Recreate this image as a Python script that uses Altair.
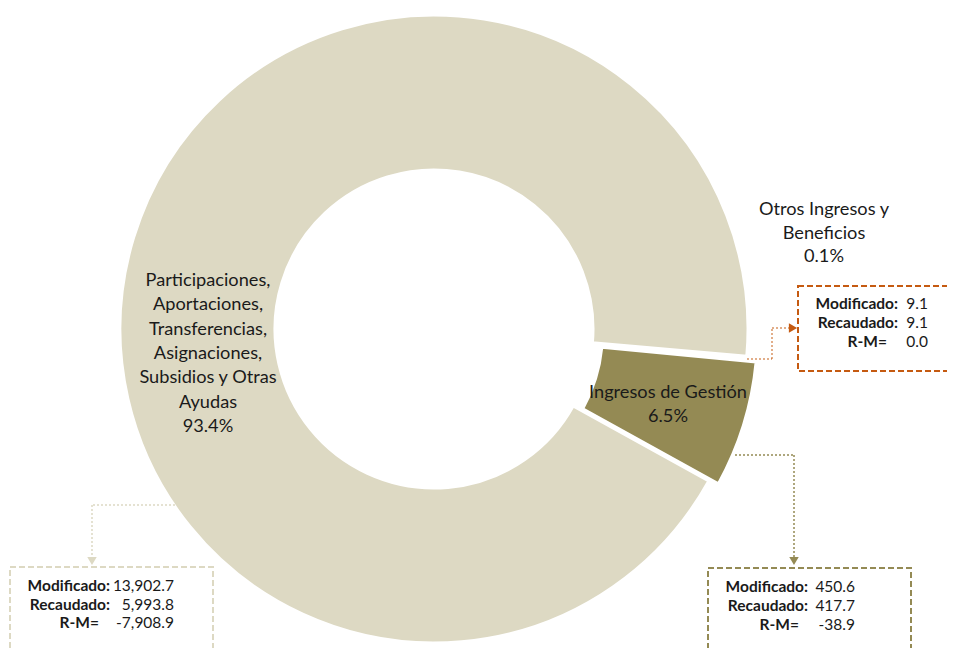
import altair as alt
import pandas as pd
import numpy as np

# ---------------- data ----------------
categories = [
    "Otros Ingresos y Beneficios",
    "Ingresos de Gestión",
    "Participaciones, Aportaciones, Transferencias, Asignaciones, Subsidios y Otras Ayudas",
]
label_lines = [
    ["Otros Ingresos y", "Beneficios"],
    ["Ingresos de Gestión"],
    ["Participaciones,", "Aportaciones,", "Transferencias,", "Asignaciones,",
     "Subsidios y Otras", "Ayudas"],
]
recaudado = [9.1, 417.7, 5993.8]
modificado = [9.1, 450.6, 13902.7]
r_m = [0.0, -38.9, -7908.9]
box_labels = ["Modificado:", "Recaudado:", "R-M="]

# ---------------- styles ----------------
slice_colors = ["#C55A11", "#948A54", "#DDD9C3"]
box_colors = ["#C55A11", "#948A54", "#DDD9C3"]
FONT = "Lato"
LABEL_SIZE = 18.2
BOX_SIZE = 15.5

OFF = 8                      # page margin
CX, CY = 434 - OFF, 329 - OFF
R_OUT, R_IN = 314, 159
START = np.deg2rad(95)
EXPLODE = 10

total = sum(recaudado)
pcts = [f"{v / total * 100:.1f}%" for v in recaudado]

df = pd.DataFrame({"cat": categories, "recaudado": recaudado, "ord": [0, 1, 2]})

ring = (
    alt.Chart(df)
    .transform_window(cum="sum(recaudado)", sort=[alt.SortField("ord")], frame=[None, 0])
    .transform_calculate(start="datum.cum - datum.recaudado")
)
theta_scale = alt.Scale(domain=[0, total], range=[START, START + 2 * np.pi])
enc = dict(
    theta=alt.Theta("start:Q", scale=theta_scale, stack=None),
    theta2=alt.Theta2("cum"),
    color=alt.Color("cat:N", scale=alt.Scale(domain=categories, range=slice_colors), legend=None),
)

main = ring.transform_filter("datum.ord != 1").mark_arc(
    x=CX, y=CY, innerRadius=R_IN, outerRadius=R_OUT, stroke="white", strokeWidth=3
).encode(**enc)

mid = START + (recaudado[0] + recaudado[1] / 2) / total * 2 * np.pi
dx, dy = EXPLODE * np.sin(mid), -EXPLODE * np.cos(mid)
gest = ring.transform_filter("datum.ord == 1").mark_arc(
    x=CX + dx, y=CY + dy, innerRadius=R_IN, outerRadius=R_OUT, stroke="white", strokeWidth=3
).encode(**enc)

one = pd.DataFrame({"a": [0]})


def text_layer(txt, x, y, align="center", size=LABEL_SIZE, bold=False, lh=24):
    d = pd.DataFrame({"t": [txt]})
    return alt.Chart(d).mark_text(
        align=align, baseline="alphabetic", font=FONT, fontSize=size,
        fontWeight="bold" if bold else "normal", color="#1a1a1a",
        lineBreak="\n", lineHeight=lh, x=x - OFF, y=y - OFF,
    ).encode(text="t:N")


def rule(x1, y1, x2, y2, color, opacity=1.0):
    return alt.Chart(one).mark_rule(
        color=color, strokeWidth=1.5, strokeDash=[2, 2], opacity=opacity
    ).encode(
        x=alt.value(x1 - OFF), x2=alt.value(x2 - OFF),
        y=alt.value(y1 - OFF), y2=alt.value(y2 - OFF),
    )


def box(x1, y1, x2, y2, color):
    return alt.Chart(one).mark_rect(
        fillOpacity=0, stroke=color, strokeWidth=2, strokeDash=[6, 3]
    ).encode(
        x=alt.value(x1 - OFF), x2=alt.value(x2 - OFF),
        y=alt.value(y1 - OFF), y2=alt.value(y2 - OFF),
    )


def arrow(x, y, shape, color):
    return alt.Chart(one).mark_point(
        shape=shape, filled=True, size=90, color=color, opacity=1
    ).encode(x=alt.value(x - OFF), y=alt.value(y - OFF))


def callout(i, x_lab, x_rm, x_val, y0, step):
    vals = [modificado[i], recaudado[i], r_m[i]]
    vtxt = "\n".join(f"{v:,.1f}" for v in vals)
    return [
        text_layer("\n".join(box_labels[:2]), x_lab, y0, align="right", size=BOX_SIZE, bold=True, lh=step),
        text_layer(box_labels[2], x_rm, y0 + 2 * step, align="right", size=BOX_SIZE, bold=True, lh=step),
        text_layer(vtxt, x_val, y0, align="right", size=BOX_SIZE, lh=step),
    ]


# slice labels
labels = [
    text_layer("\n".join(label_lines[2] + [pcts[2]]), 208, 286, lh=24.3),
    text_layer("\n".join(label_lines[1] + [pcts[1]]), 668, 398, lh=24),
    text_layer("\n".join(label_lines[0] + [pcts[0]]), 824, 215, lh=23.5),
]

# connectors & boxes
c_part = [
    rule(175, 505, 92, 505, box_colors[2]),
    rule(92, 505, 92, 558, box_colors[2]),
    arrow(92, 561, "triangle-down", box_colors[2]),
    box(10, 567, 213, 652, box_colors[2]),
]
c_otros = [
    rule(747, 359, 772, 359, box_colors[0], 0.65),
    rule(772, 359, 772, 328, box_colors[0], 0.65),
    rule(772, 328, 790, 328, box_colors[0], 0.65),
    arrow(793, 328, "triangle-right", box_colors[0]),
    box(798, 286, 975, 371, box_colors[0]),
]
c_gest = [
    rule(735, 455, 794, 455, box_colors[1]),
    rule(794, 455, 794, 558, box_colors[1]),
    arrow(794, 561, "triangle-down", box_colors[1]),
    box(708, 568, 911, 680, box_colors[1]),
]

texts = (
    callout(2, 110, 99, 174, 591, 18.5)
    + callout(0, 898, 887, 928, 309, 19)
    + callout(1, 808, 799, 855, 592, 19)
)

chart = alt.layer(
    main, gest, *labels, *c_part, *c_otros, *c_gest, *texts
).properties(
    width=939, height=640, padding=0, autosize="none"
).configure_view(stroke=None)

chart.save("out.html", embed_options={"renderer": "svg", "actions": False})
